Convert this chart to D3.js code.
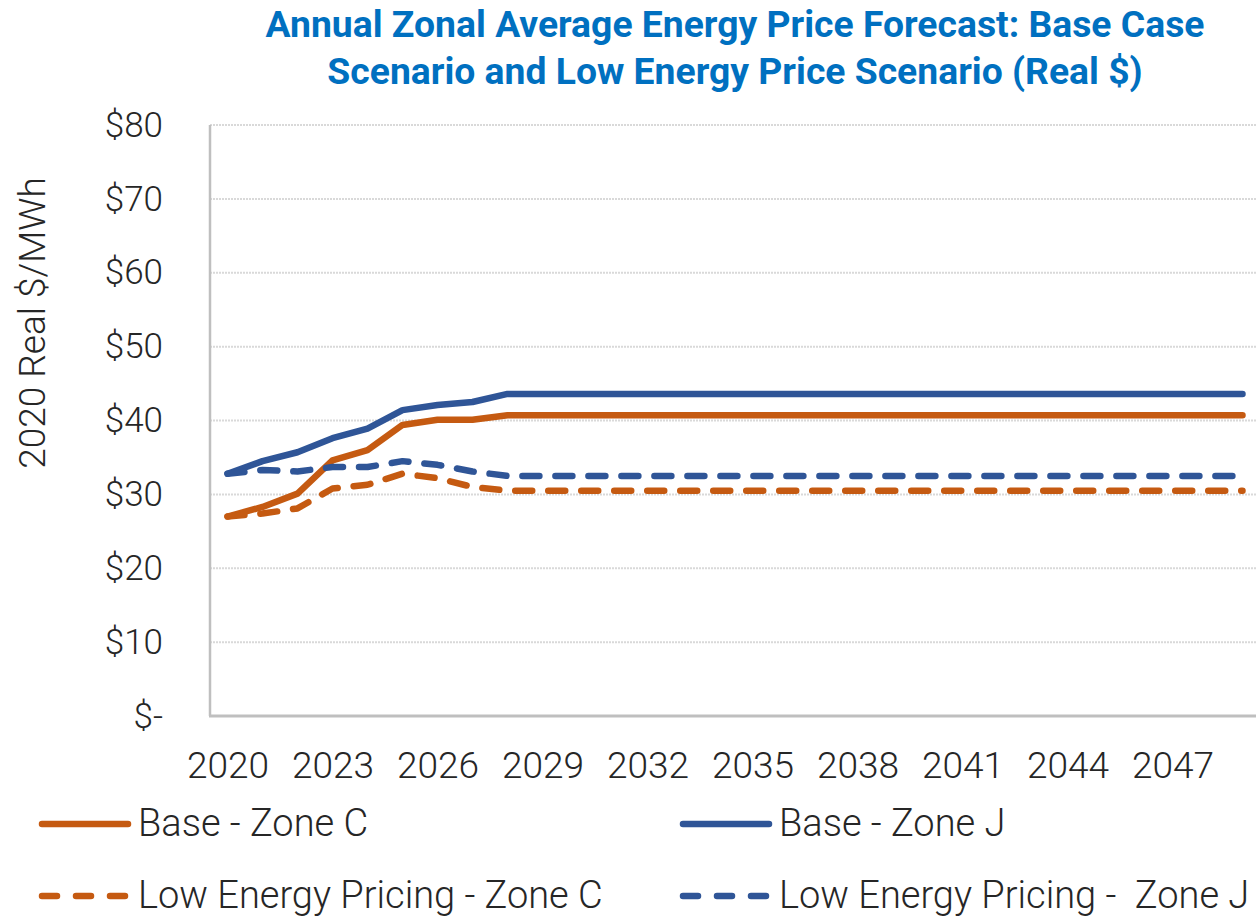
<!DOCTYPE html>
<html>
<head>
<meta charset="utf-8">
<script src="https://cdn.jsdelivr.net/npm/d3@7"></script>
<style>
  html, body { margin: 0; padding: 0; background: #ffffff; }
  svg { display: block; }
</style>
</head>
<body>
<div id="chart"></div>
<script>
const years = [2020, 2021, 2022, 2023, 2024, 2025, 2026, 2027, 2028, 2029,
  2030, 2031, 2032, 2033, 2034, 2035, 2036, 2037, 2038, 2039,
  2040, 2041, 2042, 2043, 2044, 2045, 2046, 2047, 2048, 2049];

const baseZoneC = [27.0, 28.3, 30.1, 34.6, 36.0, 39.4, 40.1, 40.1, 40.7, 40.7,
  40.7, 40.7, 40.7, 40.7, 40.7, 40.7, 40.7, 40.7, 40.7, 40.7,
  40.7, 40.7, 40.7, 40.7, 40.7, 40.7, 40.7, 40.7, 40.7, 40.7];
const baseZoneJ = [32.8, 34.5, 35.7, 37.6, 38.9, 41.4, 42.1, 42.5, 43.6, 43.6,
  43.6, 43.6, 43.6, 43.6, 43.6, 43.6, 43.6, 43.6, 43.6, 43.6,
  43.6, 43.6, 43.6, 43.6, 43.6, 43.6, 43.6, 43.6, 43.6, 43.6];
const lowZoneC = [27.0, 27.4, 28.1, 30.8, 31.3, 32.8, 32.2, 31.0, 30.5, 30.5,
  30.5, 30.5, 30.5, 30.5, 30.5, 30.5, 30.5, 30.5, 30.5, 30.5,
  30.5, 30.5, 30.5, 30.5, 30.5, 30.5, 30.5, 30.5, 30.5, 30.5];
const lowZoneJ = [32.8, 33.3, 33.1, 33.7, 33.7, 34.5, 34.0, 33.1, 32.5, 32.5,
  32.5, 32.5, 32.5, 32.5, 32.5, 32.5, 32.5, 32.5, 32.5, 32.5,
  32.5, 32.5, 32.5, 32.5, 32.5, 32.5, 32.5, 32.5, 32.5, 32.5];

const yTicks = [0, 10, 20, 30, 40, 50, 60, 70, 80];
const xTickYears = [2020, 2023, 2026, 2029, 2032, 2035, 2038, 2041, 2044, 2047];

const seriesNames = ["Base - Zone C", "Base - Zone J", "Low Energy Pricing - Zone C", "Low Energy Pricing -  Zone J"];
const seriesValues = [baseZoneC, baseZoneJ, lowZoneC, lowZoneJ];

const titleLines = ["Annual Zonal Average Energy Price Forecast: Base Case", "Scenario and Low Energy Price Scenario (Real $)"];
const yTitle = "2020 Real $/MWh";

const pars = {
  width: 1256,
  height: 918,
  plotLeft: 210,
  plotRight: 1260,
  plotTop: 125,
  plotBottom: 716,
  orange: "#c55a11",
  blue: "#2f5597",
  titleColor: "#0070c0",
  textColor: "#262626",
  gridColor: "#d9d9d9",
  axisColor: "#bfbfbf",
  lineWidth: 6.5,
  dash: "17,16",
  font: "Roboto, 'Noto Sans', sans-serif"
};

const styles = [
  {color: pars.orange, dash: null},
  {color: pars.blue, dash: null},
  {color: pars.orange, dash: pars.dash},
  {color: pars.blue, dash: pars.dash}
];

const svg = d3.select("#chart").append("svg")
  .attr("width", pars.width)
  .attr("height", pars.height);

const x = d3.scalePoint()
  .domain(years)
  .range([pars.plotLeft, pars.plotRight])
  .padding(0.5);

const y = d3.scaleLinear()
  .domain([0, 80])
  .range([pars.plotBottom, pars.plotTop]);

// title
svg.append("text")
  .attr("text-anchor", "middle")
  .attr("font-family", pars.font)
  .attr("font-weight", 700)
  .attr("font-size", "37.3px")
  .attr("fill", pars.titleColor)
  .selectAll("tspan")
  .data(titleLines)
  .enter().append("tspan")
  .attr("x", 735)
  .attr("y", (d, i) => 37 + i * 47)
  .text(d => d);

// gridlines
svg.append("g")
  .selectAll("line")
  .data(yTicks.filter(v => v > 0))
  .enter().append("line")
  .attr("x1", pars.plotLeft)
  .attr("x2", pars.width)
  .attr("y1", d => y(d))
  .attr("y2", d => y(d))
  .attr("stroke", pars.gridColor)
  .attr("stroke-width", 2)
  .style("stroke-dasharray", "2,1");

svg.append("line")
  .attr("x1", pars.plotLeft)
  .attr("x2", pars.plotLeft)
  .attr("y1", pars.plotTop)
  .attr("y2", pars.plotBottom)
  .attr("stroke", pars.axisColor)
  .attr("stroke-width", 2.5);

svg.append("line")
  .attr("x1", pars.plotLeft - 1)
  .attr("x2", pars.width)
  .attr("y1", pars.plotBottom)
  .attr("y2", pars.plotBottom)
  .attr("stroke", pars.axisColor)
  .attr("stroke-width", 3);

// y axis
const yAxis = svg.append("g")
  .attr("transform", `translate(${pars.plotLeft},0)`)
  .call(d3.axisLeft(y)
    .tickValues(yTicks)
    .tickSize(0)
    .tickPadding(47)
    .tickFormat(d => d === 0 ? "$-" : "$" + d));
yAxis.select(".domain").remove();
yAxis.selectAll("text")
  .attr("font-family", pars.font)
  .attr("font-weight", 300)
  .attr("font-size", "35px")
  .attr("fill", pars.textColor);

// x axis
const xAxis = svg.append("g")
  .attr("transform", `translate(0,${pars.plotBottom})`)
  .call(d3.axisBottom(x)
    .tickValues(xTickYears)
    .tickSize(0)
    .tickPadding(36));
xAxis.select(".domain").remove();
xAxis.selectAll("text")
  .attr("font-family", pars.font)
  .attr("font-weight", 300)
  .attr("font-size", "37px")
  .attr("fill", pars.textColor);

// y title
svg.append("text")
  .attr("transform", "translate(45,323) rotate(-90)")
  .attr("text-anchor", "middle")
  .attr("font-family", pars.font)
  .attr("font-weight", 300)
  .attr("font-size", "37px")
  .attr("fill", pars.textColor)
  .text(yTitle);

// series
const line = d3.line()
  .x((d, i) => x(years[i]))
  .y(d => y(d));

svg.append("g")
  .selectAll("path")
  .data(seriesValues)
  .enter().append("path")
  .attr("d", d => line(d))
  .attr("fill", "none")
  .attr("stroke", (d, i) => styles[i].color)
  .attr("stroke-width", pars.lineWidth)
  .attr("stroke-linecap", "round")
  .attr("stroke-linejoin", "round")
  .style("stroke-dasharray", (d, i) => styles[i].dash);

// legend
const legendPos = [
  {x: 42, y: 824},
  {x: 683, y: 824},
  {x: 42, y: 896},
  {x: 683, y: 896}
];

const legend = svg.append("g")
  .selectAll("g")
  .data(seriesNames)
  .enter().append("g")
  .attr("transform", (d, i) => `translate(${legendPos[i].x},${legendPos[i].y})`);

legend.append("line")
  .attr("x1", 0)
  .attr("x2", 86)
  .attr("y1", 0)
  .attr("y2", 0)
  .attr("stroke", (d, i) => styles[i].color)
  .attr("stroke-width", pars.lineWidth)
  .attr("stroke-linecap", "round")
  .style("stroke-dasharray", (d, i) => styles[i].dash ? "15,19" : null);

legend.append("text")
  .attr("x", 96)
  .attr("y", 12)
  .attr("font-family", pars.font)
  .attr("font-weight", 300)
  .attr("font-size", "38px")
  .attr("fill", pars.textColor)
  .style("white-space", "pre")
  .text(d => d);
</script>
</body>
</html>
